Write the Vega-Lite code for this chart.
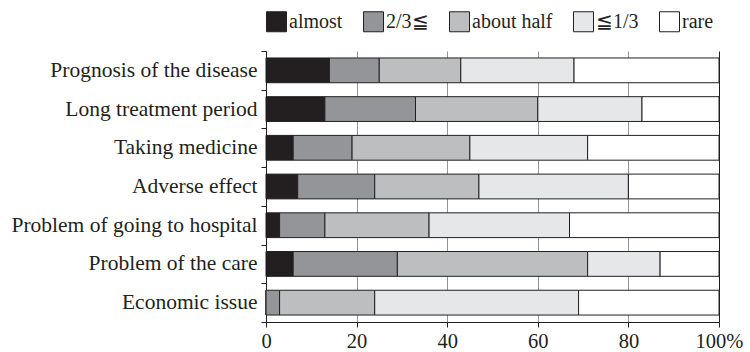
{
  "$schema": "https://vega.github.io/schema/vega-lite/v6.json",
  "autosize": "none",
  "width": 453,
  "height": 271,
  "padding": {"left": 266, "top": 51, "right": 31, "bottom": 30},
  "background": "white",
  "config": {
    "font": "Liberation Serif",
    "view": {"stroke": null},
    "axis": {"labelFont": "Liberation Serif", "labelColor": "#231f20", "domainColor": "#231f20", "tickColor": "#231f20", "domainWidth": 1, "tickWidth": 1}
  },
  "data": {
    "values": [
      {"item": "Prognosis of the disease", "level": "almost", "k": 0, "value": 14},
      {"item": "Prognosis of the disease", "level": "2/3≦", "k": 1, "value": 11},
      {"item": "Prognosis of the disease", "level": "about half", "k": 2, "value": 18},
      {"item": "Prognosis of the disease", "level": "≦1/3", "k": 3, "value": 25},
      {"item": "Prognosis of the disease", "level": "rare", "k": 4, "value": 32},
      {"item": "Long treatment period", "level": "almost", "k": 0, "value": 13},
      {"item": "Long treatment period", "level": "2/3≦", "k": 1, "value": 20},
      {"item": "Long treatment period", "level": "about half", "k": 2, "value": 27},
      {"item": "Long treatment period", "level": "≦1/3", "k": 3, "value": 23},
      {"item": "Long treatment period", "level": "rare", "k": 4, "value": 17},
      {"item": "Taking medicine", "level": "almost", "k": 0, "value": 6},
      {"item": "Taking medicine", "level": "2/3≦", "k": 1, "value": 13},
      {"item": "Taking medicine", "level": "about half", "k": 2, "value": 26},
      {"item": "Taking medicine", "level": "≦1/3", "k": 3, "value": 26},
      {"item": "Taking medicine", "level": "rare", "k": 4, "value": 29},
      {"item": "Adverse effect", "level": "almost", "k": 0, "value": 7},
      {"item": "Adverse effect", "level": "2/3≦", "k": 1, "value": 17},
      {"item": "Adverse effect", "level": "about half", "k": 2, "value": 23},
      {"item": "Adverse effect", "level": "≦1/3", "k": 3, "value": 33},
      {"item": "Adverse effect", "level": "rare", "k": 4, "value": 20},
      {"item": "Problem of going to hospital", "level": "almost", "k": 0, "value": 3},
      {"item": "Problem of going to hospital", "level": "2/3≦", "k": 1, "value": 10},
      {"item": "Problem of going to hospital", "level": "about half", "k": 2, "value": 23},
      {"item": "Problem of going to hospital", "level": "≦1/3", "k": 3, "value": 31},
      {"item": "Problem of going to hospital", "level": "rare", "k": 4, "value": 33},
      {"item": "Problem of the care", "level": "almost", "k": 0, "value": 6},
      {"item": "Problem of the care", "level": "2/3≦", "k": 1, "value": 23},
      {"item": "Problem of the care", "level": "about half", "k": 2, "value": 42},
      {"item": "Problem of the care", "level": "≦1/3", "k": 3, "value": 16},
      {"item": "Problem of the care", "level": "rare", "k": 4, "value": 13},
      {"item": "Economic issue", "level": "almost", "k": 0, "value": 0},
      {"item": "Economic issue", "level": "2/3≦", "k": 1, "value": 3},
      {"item": "Economic issue", "level": "about half", "k": 2, "value": 21},
      {"item": "Economic issue", "level": "≦1/3", "k": 3, "value": 45},
      {"item": "Economic issue", "level": "rare", "k": 4, "value": 31}
    ]
  },
  "mark": {"type": "bar", "height": {"band": 0.64}, "stroke": "#231f20", "strokeWidth": 1},
  "encoding": {
    "y": {
      "field": "item", "type": "nominal", "title": null,
      "sort": ["Prognosis of the disease", "Long treatment period", "Taking medicine", "Adverse effect", "Problem of going to hospital", "Problem of the care", "Economic issue"],
      "scale": {"paddingInner": 0, "paddingOuter": 0},
      "axis": {"tickBand": "extent", "tickSize": 5, "labelFontSize": 21.5, "labelPadding": 4, "grid": false, "labelLimit": 400}
    },
    "x": {
      "field": "value", "type": "quantitative", "stack": "zero", "title": null,
      "scale": {"domain": [0, 100], "nice": false},
      "axis": {
        "values": [0, 20, 40, 60, 80, 100],
        "grid": true,
        "gridColor": {"condition": {"test": "datum.value === 100", "value": "#231f20"}, "value": "#939598"},
        "gridWidth": 1,
        "tickSize": 5,
        "labelFontSize": 20.5,
        "labelPadding": 4,
        "labelFlush": false,
        "labelExpr": "datum.value === 100 ? '100%' : datum.label"
      }
    },
    "color": {
      "field": "level", "type": "nominal",
      "scale": {"domain": ["almost", "2/3≦", "about half", "≦1/3", "rare"], "range": ["#231f20", "#939598", "#bcbec0", "#e6e7e8", "#ffffff"]},
      "legend": {
        "title": null, "orient": "top", "direction": "horizontal", "offset": 17, "padding": 0,
        "symbolType": "square", "symbolSize": 400, "symbolStrokeColor": "#231f20", "symbolStrokeWidth": 1,
        "labelFontSize": 20, "labelColor": "#231f20", "labelOffset": 2, "columnPadding": 18
      }
    },
    "order": {"field": "k", "type": "quantitative"}
  }
}
